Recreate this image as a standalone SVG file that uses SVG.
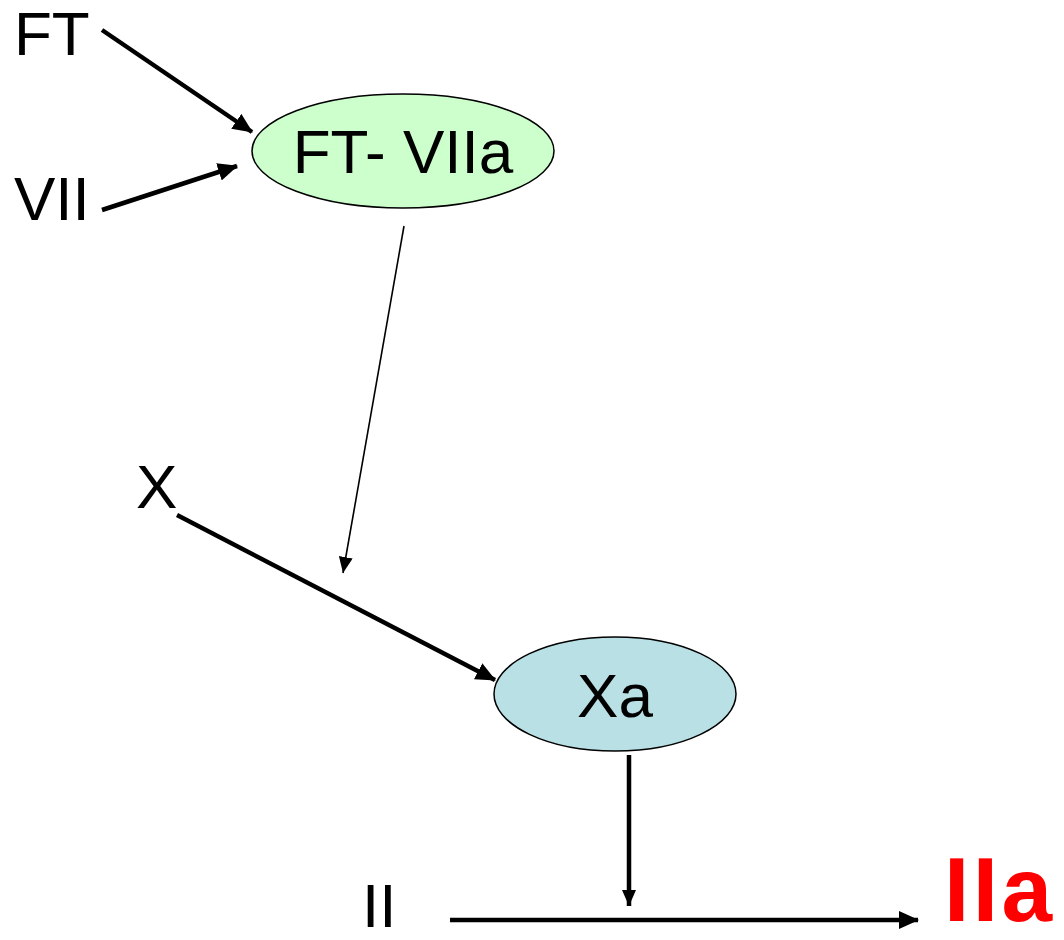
<svg xmlns="http://www.w3.org/2000/svg" width="1064" height="940" viewBox="0 0 1064 940">
<style>
text{font-family:"Liberation Sans",Arial,sans-serif;font-size:62px;fill:#000}
.thick{stroke:#000;stroke-width:4.5;fill:none}
.thin{stroke:#000;stroke-width:1.6;fill:none}
.node{stroke:#000;stroke-width:1.5}
</style>
<defs>
<marker id="ah" markerUnits="userSpaceOnUse" markerWidth="22" markerHeight="18" refX="19" refY="9" orient="auto">
<path d="M0,0 L20,9 L0,18 Z" fill="#000"/>
</marker>
<marker id="ahs" markerUnits="userSpaceOnUse" markerWidth="18" markerHeight="14" refX="16" refY="7" orient="auto">
<path d="M0,0 L16,7 L0,14 Z" fill="#000"/>
</marker>
</defs>
<rect width="1064" height="940" fill="#fff"/>
<g id="connectors">
<line class="thick" x1="102" y1="30" x2="252" y2="132" marker-end="url(#ah)"/>
<line class="thick" x1="102" y1="210" x2="237" y2="166" marker-end="url(#ah)"/>
<line class="thin" x1="404" y1="226" x2="343" y2="573" marker-end="url(#ahs)"/>
<line class="thick" x1="177" y1="515" x2="495" y2="680" marker-end="url(#ah)"/>
<line class="thick" x1="629" y1="755" x2="629" y2="906" marker-end="url(#ahs)"/>
<line class="thick" x1="450" y1="920" x2="918" y2="920" marker-end="url(#ah)"/>
</g>
<g id="FT"><text x="14" y="55">FT</text></g>
<g id="VII"><text x="14" y="220">VII</text></g>
<g id="FT-VIIa">
<ellipse class="node" cx="403" cy="151" rx="151" ry="57" fill="#ccffcc"/>
<text x="403" y="173" text-anchor="middle">FT- VIIa</text>
</g>
<g id="X"><text x="136" y="508">X</text></g>
<g id="Xa">
<ellipse class="node" cx="615" cy="694" rx="121" ry="57" fill="#b9e0e5"/>
<text x="615" y="717" text-anchor="middle">Xa</text>
</g>
<g id="II"><text x="362" y="927">II</text></g>
<g id="IIa"><text x="944" y="921" textLength="108" style="font-weight:bold;font-size:91px;fill:#ff0000">IIa</text></g>
</svg>
